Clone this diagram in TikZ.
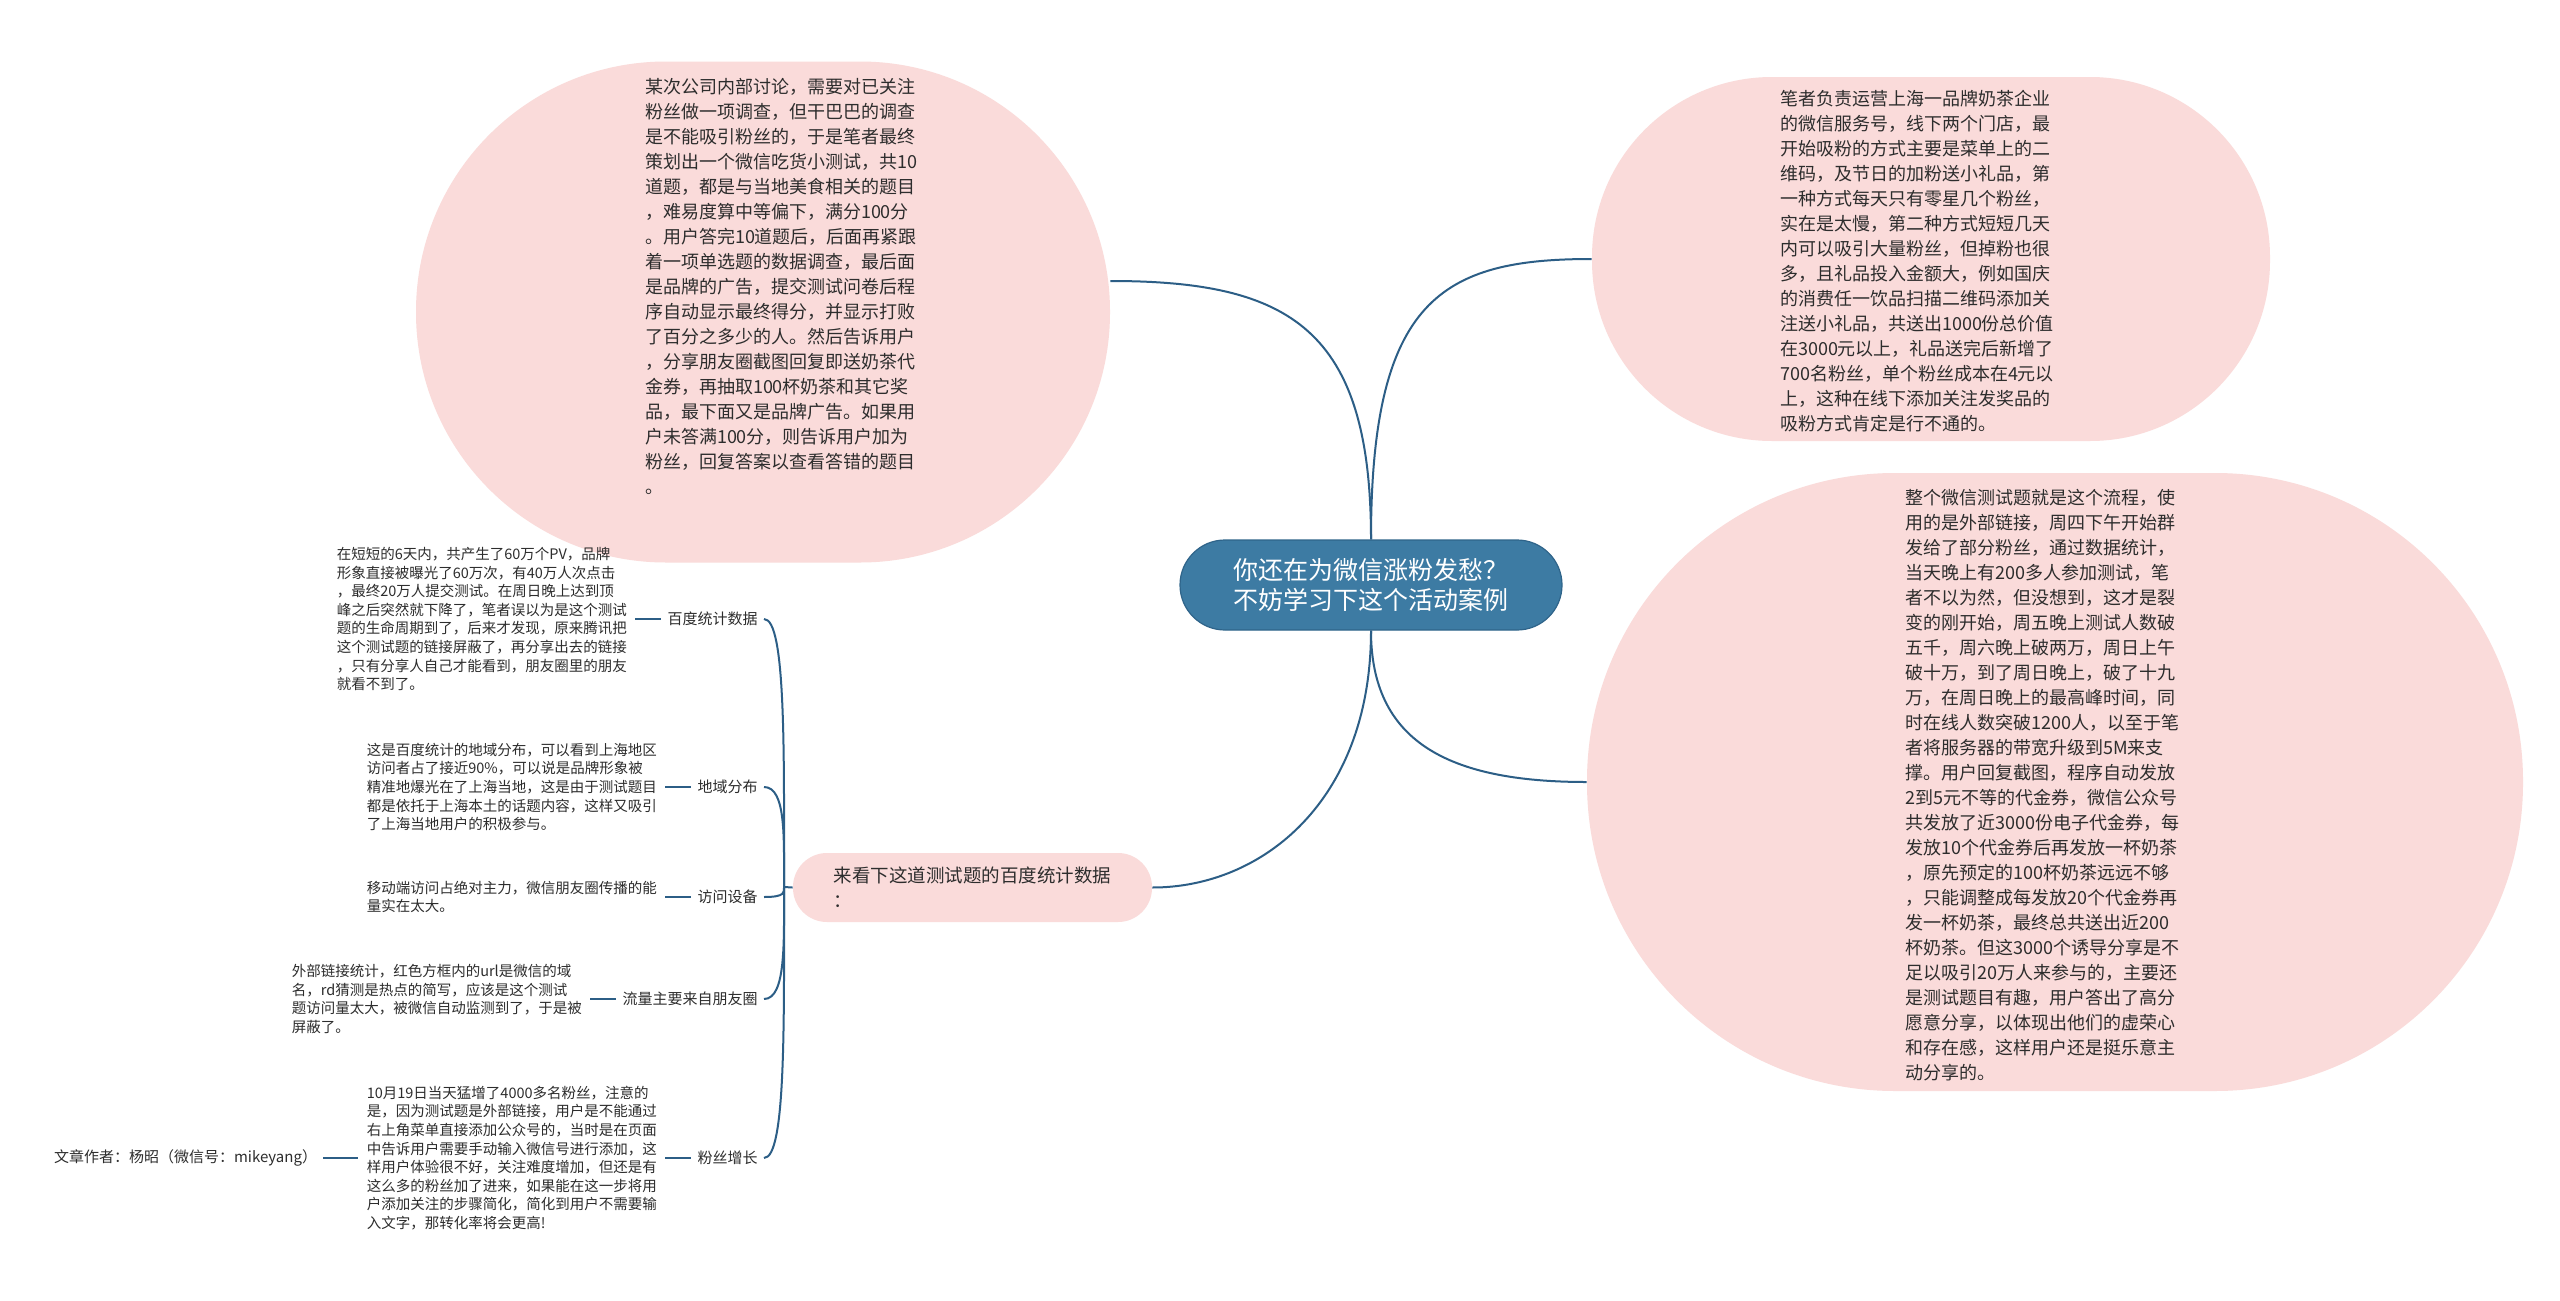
\documentclass[tikz,border=0pt]{standalone}
\usepackage{fontspec}
\setmainfont{Noto Sans CJK SC}
\usepackage{xcolor}
\usepackage{tikz}
\usetikzlibrary{positioning,calc}

\definecolor{bubblepink}{RGB}{250,219,218}
\definecolor{hubblue}{RGB}{61,123,163}
\definecolor{hubedge}{RGB}{47,100,138}
\definecolor{linkblue}{RGB}{44,94,134}
\definecolor{inktext}{RGB}{45,45,45}

\begin{document}
\begin{tikzpicture}[
    x=0.5pt, y=-0.5pt,
    bubble/.style={rectangle, fill=bubblepink, draw=none, inner sep=0pt},
    bodytext/.style={align=left, inner sep=0pt, text=inktext, font=\fontsize{9pt}{12.5pt}\selectfont},
    hubnode/.style={rectangle, rounded corners=22.5pt, fill=hubblue, draw=hubedge, line width=0.6pt, minimum width=191pt, minimum height=45pt, align=center, text=white, font=\fontsize{12.5pt}{15pt}\selectfont},
    topicnode/.style={rectangle, rounded corners=17pt, fill=bubblepink, minimum width=179.5pt, minimum height=34.5pt, align=left, text=inktext, font=\fontsize{9.25pt}{12.5pt}\selectfont},
    tagnode/.style={inner xsep=3pt, inner ysep=1pt, text=inktext, font=\fontsize{7.5pt}{9pt}\selectfont},
    leafnode/.style={align=left, inner xsep=4pt, inner ysep=1pt, text=inktext, font=\fontsize{7.25pt}{9.3pt}\selectfont},
    link/.style={draw=linkblue, line width=1pt}
]
    \useasboundingbox (0,0) rectangle (2560,1301);
    \fill[white] (0,0) rectangle (2560,1301);

    % the three big bubbles
    \node[bubble, minimum width=347pt, minimum height=250.5pt, rounded corners=125pt] (sq) at (763,312) {};
    \node[bodytext] (sqtext) at (781,286) {某次公司内部讨论，需要对已关注\\粉丝做一项调查，但干巴巴的调查\\是不能吸引粉丝的，于是笔者最终\\策划出一个微信吃货小测试，共10\\道题，都是与当地美食相关的题目\\，难易度算中等偏下，满分100分\\。用户答完10道题后，后面再紧跟\\着一项单选题的数据调查，最后面\\是品牌的广告，提交测试问卷后程\\序自动显示最终得分，并显示打败\\了百分之多少的人。然后告诉用户\\，分享朋友圈截图回复即送奶茶代\\金券，再抽取100杯奶茶和其它奖\\品，最下面又是品牌广告。如果用\\户未答满100分，则告诉用户加为\\粉丝，回复答案以查看答错的题目\\。};

    \node[bubble, minimum width=339pt, minimum height=182pt, rounded corners=90pt] (tr) at (1931,259) {};
    \node[bodytext] (trtext) at (1917,261) {笔者负责运营上海一品牌奶茶企业\\的微信服务号，线下两个门店，最\\开始吸粉的方式主要是菜单上的二\\维码，及节日的加粉送小礼品，第\\一种方式每天只有零星几个粉丝，\\实在是太慢，第二种方式短短几天\\内可以吸引大量粉丝，但掉粉也很\\多，且礼品投入金额大，例如国庆\\的消费任一饮品扫描二维码添加关\\注送小礼品，共送出1000份总价值\\在3000元以上，礼品送完后新增了\\700名粉丝，单个粉丝成本在4元以\\上，这种在线下添加关注发奖品的\\吸粉方式肯定是行不通的。};

    \node[bubble, minimum width=468pt, minimum height=309pt, rounded corners=154pt] (br) at (2055,782) {};
    \node[bodytext] (brtext) at (2042,785) {整个微信测试题就是这个流程，使\\用的是外部链接，周四下午开始群\\发给了部分粉丝，通过数据统计，\\当天晚上有200多人参加测试，笔\\者不以为然，但没想到，这才是裂\\变的刚开始，周五晚上测试人数破\\五千，周六晚上破两万，周日上午\\破十万，到了周日晚上，破了十九\\万，在周日晚上的最高峰时间，同\\时在线人数突破1200人，以至于笔\\者将服务器的带宽升级到5M来支\\撑。用户回复截图，程序自动发放\\2到5元不等的代金券，微信公众号\\共发放了近3000份电子代金券，每\\发放10个代金券后再发放一杯奶茶\\，原先预定的100杯奶茶远远不够\\，只能调整成每发放20个代金券再\\发一杯奶茶，最终总共送出近200\\杯奶茶。但这3000个诱导分享是不\\足以吸引20万人来参与的，主要还\\是测试题目有趣，用户答出了高分\\愿意分享，以体现出他们的虚荣心\\和存在感，这样用户还是挺乐意主\\动分享的。};

    \node[hubnode] (hub) at (1371,585) {你还在为微信涨粉发愁？\\不妨学习下这个活动案例};
    \node[topicnode] (topic) at (972.5,887.5) {来看下这道测试题的百度统计数据\\：};

    % statistics branch
    \coordinate (fork) at (784,887);
    \node[tagnode, anchor=east] (tagstat) at (764,619) {百度统计数据};
    \node[tagnode, anchor=east] (tagarea) at (764,787) {地域分布};
    \node[tagnode, anchor=east] (tagdev) at (764,897) {访问设备};
    \node[tagnode, anchor=east] (tagflow) at (764,999) {流量主要来自朋友圈};
    \node[tagnode, anchor=east] (taggrow) at (764,1158) {粉丝增长};

    \node[leafnode, left=13pt of tagstat] (leafstat) {在短短的6天内，共产生了60万个PV，品牌\\形象直接被曝光了60万次，有40万人次点击\\，最终20万人提交测试。在周日晚上达到顶\\峰之后突然就下降了，笔者误以为是这个测试\\题的生命周期到了，后来才发现，原来腾讯把\\这个测试题的链接屏蔽了，再分享出去的链接\\，只有分享人自己才能看到，朋友圈里的朋友\\就看不到了。};
    \node[leafnode, left=13pt of tagarea] (leafarea) {这是百度统计的地域分布，可以看到上海地区\\访问者占了接近90\%，可以说是品牌形象被\\精准地爆光在了上海当地，这是由于测试题目\\都是依托于上海本土的话题内容，这样又吸引\\了上海当地用户的积极参与。};
    \node[leafnode, left=13pt of tagdev] (leafdev) {移动端访问占绝对主力，微信朋友圈传播的能\\量实在太大。};
    \node[leafnode, left=13pt of tagflow] (leafflow) {外部链接统计，红色方框内的url是微信的域\\名，rd猜测是热点的简写，应该是这个测试\\题访问量太大，被微信自动监测到了，于是被\\屏蔽了。};
    \node[leafnode, left=13pt of taggrow] (leafgrow) {10月19日当天猛增了4000多名粉丝，注意的\\是，因为测试题是外部链接，用户是不能通过\\右上角菜单直接添加公众号的，当时是在页面\\中告诉用户需要手动输入微信号进行添加，这\\样用户体验很不好，关注难度增加，但还是有\\这么多的粉丝加了进来，如果能在这一步将用\\户添加关注的步骤简化，简化到用户不需要输\\入文字，那转化率将会更高!};
    \node[tagnode, left=17.5pt of leafgrow] (author) {文章作者：杨昭（微信号：mikeyang）};

    % connectors
    \draw[link] (hub.north) .. controls +(0,-210) and +(180,0) .. ($(sq.east)+(0,-31)$);
    \draw[link] (hub.north) .. controls +(0,-240) and +(-150,0) .. (tr.west);
    \draw[link] (hub.south) .. controls +(0,110) and +(-140,0) .. (br.west);
    \draw[link] (hub.south) .. controls +(0,170) and +(110,0) .. (topic.east);

    \draw[link] (topic.west) -- (fork);
    \foreach \t in {tagstat,tagarea,tagdev,tagflow,taggrow}
        \draw[link] (fork) .. controls ($(fork)!0.5!(fork |- \t.east)$) and ($(\t.east)+(22,0)$) .. (\t.east);

    \foreach \l/\t in {leafstat/tagstat,leafarea/tagarea,leafdev/tagdev,leafflow/tagflow,leafgrow/taggrow}
        \draw[link] (\l) -- (\t);
    \draw[link] (author) -- (leafgrow);
\end{tikzpicture}
\end{document}
